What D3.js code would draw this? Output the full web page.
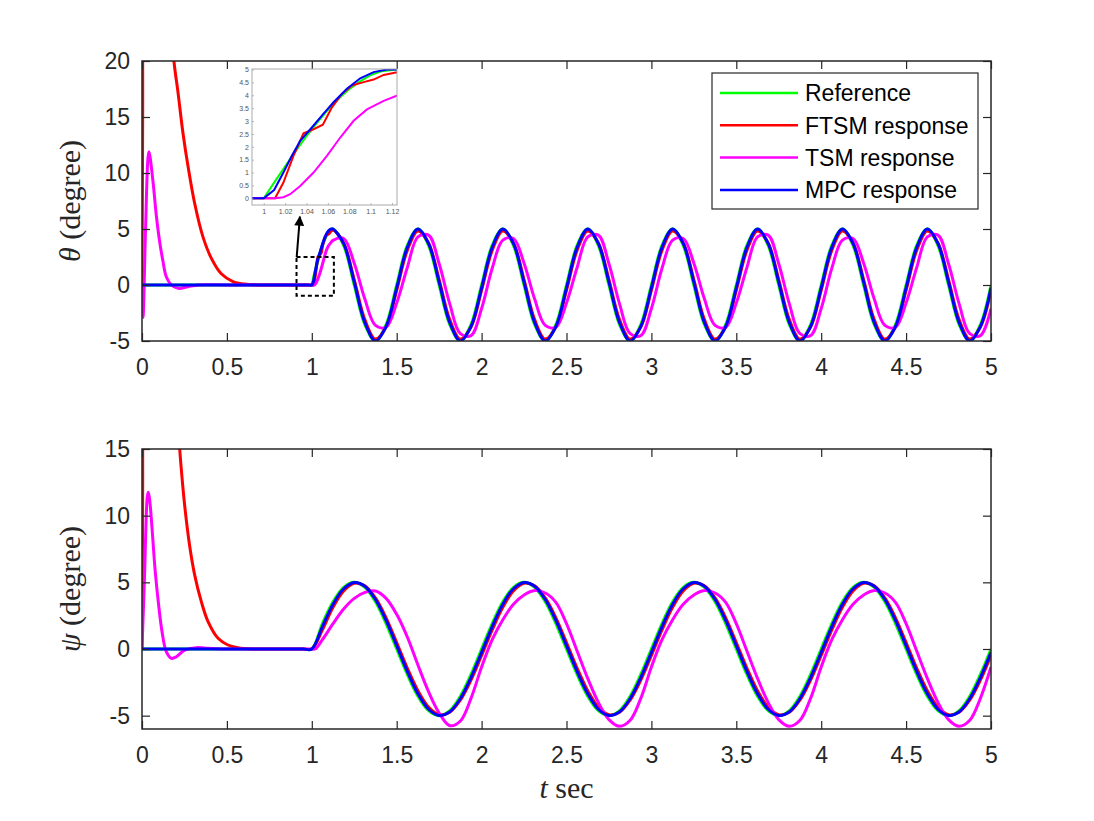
<!DOCTYPE html>
<html>
<head>
<meta charset="utf-8">
<script src="https://cdn.jsdelivr.net/npm/d3@7"></script>
<style>
  body { margin: 0; background: #fff; }
  svg { display: block; font-family: "Liberation Sans", Arial, sans-serif; }
</style>
</head>
<body>
<svg id="chart"></svg>
<script>
// ---- data ----
const seriesNames = ["Reference", "FTSM response", "TSM response", "MPC response"];
const seriesColors = ["#00ff00", "#ff0000", "#ff00ff", "#0000ff"];

const xTicks = [0, 0.5, 1, 1.5, 2, 2.5, 3, 3.5, 4, 4.5, 5];
const thetaTicks = [-5, 0, 5, 10, 15, 20];
const psiTicks = [-5, 0, 5, 10, 15];
const insetXTicks = [1, 1.02, 1.04, 1.06, 1.08, 1.1, 1.12];
const insetYTicks = [0, 0.5, 1, 1.5, 2, 2.5, 3, 3.5, 4, 4.5, 5];

// theta: start-up part (transient + zoomed detail)
const thetaRefStartT = [0, 0.25, 0.5, 0.75, 0.9, 0.95, 0.98, 1, 1.01, 1.02, 1.03, 1.04, 1.05, 1.06, 1.07, 1.08, 1.09, 1.1, 1.11];
const thetaRefStartV = [0, 0, 0, 0, 0, 0, 0, 0, 0.63, 1.24, 1.84, 2.41, 2.94, 3.43, 3.86, 4.24, 4.54, 4.78, 4.93];
const thetaFtsmStartT = [0, 0.004, 0.008, 0.06, 0.15, 0.188, 0.212, 0.241, 0.271, 0.31, 0.359, 0.408, 0.467, 0.536, 0.605, 0.7, 0.8, 0.9, 0.95, 0.98, 1, 1.0106, 1.0184, 1.0278, 1.0372, 1.045, 1.0553, 1.0638, 1.0731, 1.0825, 1.0934, 1.1028, 1.1122];
const thetaFtsmStartV = [0, 15, 40, 60, 27.7, 20, 17.2, 13.6, 10.6, 7.3, 4.3, 2.4, 1.0, 0.3, 0.08, 0, 0, 0, 0, 0, 0, 0, 0.61, 1.65, 2.52, 2.65, 2.86, 3.53, 4.05, 4.38, 4.51, 4.61, 4.79];
const thetaTsmStartT = [0, 0.006, 0.02, 0.035, 0.041, 0.065, 0.084, 0.104, 0.124, 0.143, 0.173, 0.212, 0.271, 0.33, 0.5, 0.75, 0.9, 0.95, 0.98, 1, 1.0106, 1.0184, 1.0247, 1.0341, 1.0466, 1.0591, 1.0716, 1.0841, 1.0966, 1.1122];
const thetaTsmStartV = [0, -2.9, 4.5, 11.3, 11.9, 9.2, 6.25, 3.87, 2.08, 0.74, 0, -0.3, -0.15, 0, 0, 0, 0, 0, 0, 0, 0, 0.04, 0.16, 0.48, 1.0, 1.65, 2.36, 3.01, 3.45, 3.78];
const thetaMpcStartT = [0, 0.25, 0.5, 0.75, 0.9, 0.95, 0.98, 1, 1.0097, 1.0184, 1.0263, 1.0341, 1.045, 1.0544, 1.0653, 1.0778, 1.0903, 1.1028, 1.1153];
const thetaMpcStartV = [0, 0, 0, 0, 0, 0, 0, 0, 0.32, 1.0, 1.65, 2.23, 2.75, 3.21, 3.73, 4.25, 4.66, 4.9, 5.0];

// theta: tracking part, sampled every 1/16 s
const thetaGrid = [1.125, 1.1875, 1.25, 1.3125, 1.375, 1.4375, 1.5, 1.5625, 1.625, 1.6875, 1.75, 1.8125, 1.875, 1.9375,
  2, 2.0625, 2.125, 2.1875, 2.25, 2.3125, 2.375, 2.4375, 2.5, 2.5625, 2.625, 2.6875, 2.75, 2.8125, 2.875, 2.9375,
  3, 3.0625, 3.125, 3.1875, 3.25, 3.3125, 3.375, 3.4375, 3.5, 3.5625, 3.625, 3.6875, 3.75, 3.8125, 3.875, 3.9375,
  4, 4.0625, 4.125, 4.1875, 4.25, 4.3125, 4.375, 4.4375, 4.5, 4.5625, 4.625, 4.6875, 4.75, 4.8125, 4.875, 4.9375, 5];
const thetaRef = [5, 3.54, 0, -3.54, -5, -3.54, 0, 3.54, 5, 3.54, 0, -3.54, -5, -3.54, 0, 3.54,
  5, 3.54, 0, -3.54, -5, -3.54, 0, 3.54, 5, 3.54, 0, -3.54, -5, -3.54, 0, 3.54,
  5, 3.54, 0, -3.54, -5, -3.54, 0, 3.54, 5, 3.54, 0, -3.54, -5, -3.54, 0, 3.54,
  5, 3.54, 0, -3.54, -5, -3.54, 0, 3.54, 5, 3.54, 0, -3.54, -5, -3.54, 0];
const thetaFtsm = [4.9, 3.75, 0.48, -3.09, -4.83, -3.75, -0.48, 3.09, 4.83, 3.75, 0.48, -3.09, -4.83, -3.75, -0.48, 3.09,
  4.83, 3.75, 0.48, -3.09, -4.83, -3.75, -0.48, 3.09, 4.83, 3.75, 0.48, -3.09, -4.83, -3.75, -0.48, 3.09,
  4.83, 3.75, 0.48, -3.09, -4.83, -3.75, -0.48, 3.09, 4.83, 3.75, 0.48, -3.09, -4.83, -3.75, -0.48, 3.09,
  4.83, 3.75, 0.48, -3.09, -4.83, -3.75, -0.48, 3.09, 4.83, 3.75, 0.48, -3.09, -4.83, -3.75, -0.48];
const thetaTsm = [3.99, 4.15, 1.95, -1.26, -3.61, -3.76, -1.61, 1.56, 4.3, 4.45, 1.9, -1.69, -4.35, -4.52, -2.1, 1.49,
  4.0, 4.15, 1.95, -1.26, -3.61, -3.76, -1.61, 1.56, 4.3, 4.45, 1.9, -1.69, -4.35, -4.52, -2.1, 1.49,
  4.0, 4.15, 1.95, -1.26, -3.61, -3.76, -1.61, 1.56, 4.3, 4.45, 1.9, -1.69, -4.35, -4.52, -2.1, 1.49,
  4.0, 4.15, 1.95, -1.26, -3.61, -3.76, -1.61, 1.56, 4.3, 4.45, 1.9, -1.69, -4.35, -4.52, -2.1];
const thetaMpc = [5, 3.71, 0.25, -3.36, -4.99, -3.71, -0.25, 3.36, 4.99, 3.71, 0.25, -3.36, -4.99, -3.71, -0.25, 3.36,
  4.99, 3.71, 0.25, -3.36, -4.99, -3.71, -0.25, 3.36, 4.99, 3.71, 0.25, -3.36, -4.99, -3.71, -0.25, 3.36,
  4.99, 3.71, 0.25, -3.36, -4.99, -3.71, -0.25, 3.36, 4.99, 3.71, 0.25, -3.36, -4.99, -3.71, -0.25, 3.36,
  4.99, 3.71, 0.25, -3.36, -4.99, -3.71, -0.25, 3.36, 4.99, 3.71, 0.25, -3.36, -4.99, -3.71, -0.25];

// psi: start-up part
const psiRefStartT = [0, 0.25, 0.5, 0.75, 0.9, 0.95, 1];
const psiRefStartV = [0, 0, 0, 0, 0, 0, 0];
const psiFtsmStartT = [0, 0.004, 0.01, 0.1, 0.15, 0.2, 0.222, 0.232, 0.251, 0.281, 0.31, 0.349, 0.389, 0.448, 0.506, 0.565, 0.65, 0.75, 0.9, 0.95, 1];
const psiFtsmStartV = [0, 12, 40, 59.6, 33.8, 19.2, 15, 13.4, 10.8, 7.7, 5.56, 3.57, 2.05, 0.8, 0.3, 0.1, 0, 0, 0, 0, 0];
const psiTsmStartT = [0, 0.015, 0.031, 0.037, 0.045, 0.059, 0.078, 0.098, 0.118, 0.143, 0.173, 0.202, 0.251, 0.32, 0.389, 0.467, 0.6, 0.75, 0.9, 0.95, 1, 1.02];
const psiTsmStartV = [0, 5.5, 11.4, 11.75, 11.2, 9.07, 5.8, 3.3, 1.3, -0.2, -0.7, -0.58, -0.08, 0.1, 0.05, 0, 0, 0, 0, 0, 0, 0];
const psiMpcStartT = [0, 0.25, 0.5, 0.75, 0.9, 0.95, 1];
const psiMpcStartV = [0, 0, 0, 0, 0, 0, 0];

// psi: tracking part, sampled every 1/16 s
const psiGrid = [1.0625, 1.125, 1.1875, 1.25, 1.3125, 1.375, 1.4375, 1.5, 1.5625, 1.625, 1.6875, 1.75, 1.8125, 1.875, 1.9375, 2,
  2.0625, 2.125, 2.1875, 2.25, 2.3125, 2.375, 2.4375, 2.5, 2.5625, 2.625, 2.6875, 2.75, 2.8125, 2.875, 2.9375, 3,
  3.0625, 3.125, 3.1875, 3.25, 3.3125, 3.375, 3.4375, 3.5, 3.5625, 3.625, 3.6875, 3.75, 3.8125, 3.875, 3.9375, 4,
  4.0625, 4.125, 4.1875, 4.25, 4.3125, 4.375, 4.4375, 4.5, 4.5625, 4.625, 4.6875, 4.75, 4.8125, 4.875, 4.9375, 5];
const psiRef = [1.91, 3.54, 4.62, 5, 4.62, 3.54, 1.91, 0, -1.91, -3.54, -4.62, -5, -4.62, -3.54, -1.91, 0,
  1.91, 3.54, 4.62, 5, 4.62, 3.54, 1.91, 0, -1.91, -3.54, -4.62, -5, -4.62, -3.54, -1.91, 0,
  1.91, 3.54, 4.62, 5, 4.62, 3.54, 1.91, 0, -1.91, -3.54, -4.62, -5, -4.62, -3.54, -1.91, 0,
  1.91, 3.54, 4.62, 5, 4.62, 3.54, 1.91, 0, -1.91, -3.54, -4.62, -5, -4.62, -3.54, -1.91, 0];
const psiFtsm = [1.43, 3.13, 4.36, 4.93, 4.74, 3.83, 2.34, 0.49, -1.43, -3.13, -4.36, -4.93, -4.74, -3.83, -2.34, -0.49,
  1.43, 3.13, 4.36, 4.93, 4.74, 3.83, 2.34, 0.49, -1.43, -3.13, -4.36, -4.93, -4.74, -3.83, -2.34, -0.49,
  1.43, 3.13, 4.36, 4.93, 4.74, 3.83, 2.34, 0.49, -1.43, -3.13, -4.36, -4.93, -4.74, -3.83, -2.34, -0.49,
  1.43, 3.13, 4.36, 4.93, 4.74, 3.83, 2.34, 0.49, -1.43, -3.13, -4.36, -4.93, -4.74, -3.83, -2.34, -0.49];
const psiTsm = [0.7, 1.9, 3.0, 3.8, 4.25, 4.35, 3.8, 2.6, 0.9, -1.2, -3.2, -4.8, -5.75, -5.4, -3.7, -1.35,
  0.7, 2.2, 3.35, 4.05, 4.38, 4.2, 3.5, 1.9, -0.15, -2.2, -4.0, -5.3, -5.8, -5.35, -3.7, -1.35,
  0.7, 2.2, 3.35, 4.05, 4.38, 4.2, 3.5, 1.9, -0.15, -2.2, -4.0, -5.3, -5.8, -5.35, -3.7, -1.35,
  0.7, 2.2, 3.35, 4.05, 4.38, 4.2, 3.5, 1.9, -0.15, -2.2, -4.0, -5.3, -5.8, -5.35, -3.7, -1.35];
const psiMpc = [1.68, 3.36, 4.52, 4.99, 4.71, 3.71, 2.14, 0.25, -1.68, -3.36, -4.52, -4.99, -4.71, -3.71, -2.14, -0.25,
  1.68, 3.36, 4.52, 4.99, 4.71, 3.71, 2.14, 0.25, -1.68, -3.36, -4.52, -4.99, -4.71, -3.71, -2.14, -0.25,
  1.68, 3.36, 4.52, 4.99, 4.71, 3.71, 2.14, 0.25, -1.68, -3.36, -4.52, -4.99, -4.71, -3.71, -2.14, -0.25,
  1.68, 3.36, 4.52, 4.99, 4.71, 3.71, 2.14, 0.25, -1.68, -3.36, -4.52, -4.99, -4.71, -3.71, -2.14, -0.25];

// ---- layout ----
const width = 1094, height = 821;
const plotLeft = 142, plotRight = 991;
const axisColor = "#262626";
const tickFont = 23;

const svg = d3.select("#chart").attr("width", width).attr("height", height);
svg.append("rect").attr("width", width).attr("height", height).attr("fill", "#fff");

function joinSeries(tA, vA, tB, vB) {
  const t = tA.concat(tB), v = vA.concat(vB);
  return t.map((d, i) => ({t: d, v: v[i]}));
}

const thetaSeries = [
  joinSeries(thetaRefStartT, thetaRefStartV, thetaGrid, thetaRef),
  joinSeries(thetaFtsmStartT, thetaFtsmStartV, thetaGrid, thetaFtsm),
  joinSeries(thetaTsmStartT, thetaTsmStartV, thetaGrid, thetaTsm),
  joinSeries(thetaMpcStartT, thetaMpcStartV, thetaGrid, thetaMpc)
];
const psiSeries = [
  joinSeries(psiRefStartT, psiRefStartV, psiGrid, psiRef),
  joinSeries(psiFtsmStartT, psiFtsmStartV, psiGrid, psiFtsm),
  joinSeries(psiTsmStartT, psiTsmStartV, psiGrid, psiTsm),
  joinSeries(psiMpcStartT, psiMpcStartV, psiGrid, psiMpc)
];

function drawPanel(cfg) {
  const x = d3.scaleLinear().domain([0, 5]).range([plotLeft, plotRight]);
  const y = d3.scaleLinear().domain(cfg.yDomain).range([cfg.bottom, cfg.top]);

  svg.append("clipPath").attr("id", cfg.id + "-clip")
    .append("rect")
    .attr("x", plotLeft).attr("y", cfg.top)
    .attr("width", plotRight - plotLeft).attr("height", cfg.bottom - cfg.top);

  const line = d3.line()
    .x((d) => x(d.t))
    .y((d) => y(d.v))
    .curve(d3.curveCatmullRom.alpha(0.5));

  svg.append("g").attr("clip-path", `url(#${cfg.id}-clip)`)
    .selectAll("path.series")
    .data(cfg.series)
    .enter().append("path")
    .attr("class", "series")
    .attr("d", line)
    .attr("fill", "none")
    .attr("stroke", (d, i) => seriesColors[i])
    .attr("stroke-width", 3)
    .attr("stroke-linejoin", "round");

  const styleAxis = (g) => {
    g.select(".domain").remove();
    g.selectAll(".tick line").attr("stroke", axisColor).attr("stroke-width", 1.2);
    g.selectAll(".tick text").attr("fill", axisColor);
    g.attr("font-size", tickFont).attr("font-family", "Liberation Sans, Arial, sans-serif");
  };

  svg.append("g").attr("transform", `translate(0,${cfg.bottom})`)
    .call(d3.axisBottom(x).tickValues(xTicks).tickFormat((d) => String(d)).tickSize(-8).tickPadding(18))
    .call(styleAxis);
  svg.append("g").attr("transform", `translate(0,${cfg.top})`)
    .call(d3.axisTop(x).tickValues(xTicks).tickFormat("").tickSize(-8))
    .call(styleAxis);
  svg.append("g").attr("transform", `translate(${plotLeft},0)`)
    .call(d3.axisLeft(y).tickValues(cfg.yTicks).tickFormat((d) => String(d)).tickSize(-8).tickPadding(12))
    .call(styleAxis);
  svg.append("g").attr("transform", `translate(${plotRight},0)`)
    .call(d3.axisRight(y).tickValues(cfg.yTicks).tickFormat("").tickSize(-8))
    .call(styleAxis);

  svg.append("rect")
    .attr("x", plotLeft).attr("y", cfg.top)
    .attr("width", plotRight - plotLeft).attr("height", cfg.bottom - cfg.top)
    .attr("fill", "none").attr("stroke", axisColor).attr("stroke-width", 1.5);

  // y label (serif, symbol in italic)
  const lab = svg.append("text")
    .attr("transform", `translate(80,${(cfg.top + cfg.bottom) / 2}) rotate(-90)`)
    .attr("text-anchor", "middle")
    .style("font-family", "Liberation Serif, Times New Roman, serif")
    .style("font-size", "30px")
    .attr("fill", axisColor);
  lab.append("tspan").style("font-style", "italic").text(cfg.symbol);
  lab.append("tspan").text(" (degree)");

  return {x, y};
}

const thetaAx = drawPanel({id: "theta", top: 61, bottom: 341, yDomain: [-5, 20], yTicks: thetaTicks, series: thetaSeries, symbol: "θ"});
const psiAx = drawPanel({id: "psi", top: 449, bottom: 729, yDomain: [-6, 15], yTicks: psiTicks, series: psiSeries, symbol: "ψ"});

// x label
const xl = svg.append("text")
  .attr("x", (plotLeft + plotRight) / 2).attr("y", 798)
  .attr("text-anchor", "middle")
  .style("font-family", "Liberation Serif, Times New Roman, serif")
  .style("font-size", "30px")
  .attr("fill", axisColor);
xl.append("tspan").style("font-style", "italic").text("t");
xl.append("tspan").text(" sec");

// dashed zoom box and arrow on the top panel
const zoomBox = {t0: 0.91, t1: 1.13, v0: -0.95, v1: 2.5};
svg.append("rect")
  .attr("x", thetaAx.x(zoomBox.t0)).attr("y", thetaAx.y(zoomBox.v1))
  .attr("width", thetaAx.x(zoomBox.t1) - thetaAx.x(zoomBox.t0))
  .attr("height", thetaAx.y(zoomBox.v0) - thetaAx.y(zoomBox.v1))
  .attr("fill", "none").attr("stroke", "#000").attr("stroke-width", 2)
  .attr("stroke-dasharray", "4,3");

svg.append("defs").append("marker")
  .attr("id", "arrowhead").attr("viewBox", "0 0 10 10")
  .attr("refX", 9).attr("refY", 5)
  .attr("markerWidth", 5.5).attr("markerHeight", 5)
  .attr("orient", "auto")
  .append("path").attr("d", "M0,0 L10,5 L0,10 z").attr("fill", "#000");
svg.append("line")
  .attr("x1", thetaAx.x(0.911)).attr("y1", thetaAx.y(2.5))
  .attr("x2", thetaAx.x(0.93)).attr("y2", thetaAx.y(6.1))
  .attr("stroke", "#000").attr("stroke-width", 2)
  .attr("marker-end", "url(#arrowhead)");

// inset axes
const inset = {left: 252, top: 69, right: 397, bottom: 205};
const ix = d3.scaleLinear().domain([0.989, 1.1247]).range([inset.left, inset.right]);
const iy = d3.scaleLinear().domain([-0.26, 5.02]).range([inset.bottom, inset.top]);

svg.append("rect")
  .attr("x", inset.left).attr("y", inset.top)
  .attr("width", inset.right - inset.left).attr("height", inset.bottom - inset.top)
  .attr("fill", "#fff");
svg.append("clipPath").attr("id", "inset-clip")
  .append("rect")
  .attr("x", inset.left).attr("y", inset.top)
  .attr("width", inset.right - inset.left).attr("height", inset.bottom - inset.top);

const insetLine = d3.line().x((d) => ix(d.t)).y((d) => iy(d.v));
svg.append("g").attr("clip-path", "url(#inset-clip)")
  .selectAll("path")
  .data(thetaSeries)
  .enter().append("path")
  .attr("d", insetLine)
  .attr("fill", "none")
  .attr("stroke", (d, i) => seriesColors[i])
  .attr("stroke-width", 2);

const styleInset = (g) => {
  g.select(".domain").remove();
  g.selectAll(".tick line").attr("stroke", "#888").attr("stroke-width", 0.6);
  g.selectAll(".tick text").attr("fill", "#555");
  g.attr("font-size", 7).attr("font-family", "Liberation Sans, Arial, sans-serif");
};
svg.append("g").attr("transform", `translate(0,${inset.bottom})`)
  .call(d3.axisBottom(ix).tickValues(insetXTicks).tickFormat((d) => String(d)).tickSize(-2).tickPadding(4))
  .call(styleInset);
svg.append("g").attr("transform", `translate(${inset.left},0)`)
  .call(d3.axisLeft(iy).tickValues(insetYTicks).tickFormat((d) => String(d)).tickSize(-2).tickPadding(3))
  .call(styleInset);
svg.append("rect")
  .attr("x", inset.left).attr("y", inset.top)
  .attr("width", inset.right - inset.left).attr("height", inset.bottom - inset.top)
  .attr("fill", "none").attr("stroke", "#aaa").attr("stroke-width", 1);

// legend
const legend = svg.append("g").attr("transform", "translate(712,73)");
legend.append("rect")
  .attr("width", 266).attr("height", 136)
  .attr("fill", "#fff").attr("stroke", axisColor).attr("stroke-width", 1.2);
const rows = legend.selectAll("g.row")
  .data(seriesNames)
  .enter().append("g")
  .attr("class", "row")
  .attr("transform", (d, i) => `translate(0,${20 + i * 32.3})`);
rows.append("line")
  .attr("x1", 8).attr("x2", 86)
  .attr("stroke", (d, i) => seriesColors[i])
  .attr("stroke-width", 2.5);
rows.append("text")
  .attr("x", 93).attr("dy", "0.36em")
  .style("font-size", "23px")
  .attr("fill", "#000")
  .text((d) => d);
</script>
</body>
</html>
